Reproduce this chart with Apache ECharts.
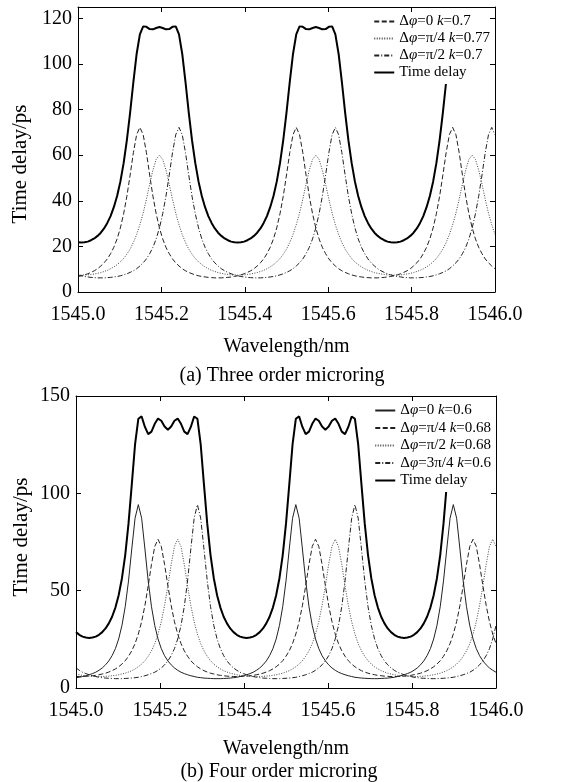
<!DOCTYPE html>
<html>
<head>
<meta charset="utf-8">
<script src="https://cdn.jsdelivr.net/npm/echarts@6/dist/echarts.min.js"></script>
<style>html,body{margin:0;padding:0;background:#fff}#chart{width:564px;height:782px}</style>
</head>
<body>
<div id="chart"></div>
<script>
// ---------- data ----------
const wavelength = [
1545.0000,1545.0078,1545.0156,1545.0234,1545.0313,1545.0391,1545.0469,1545.0547,
1545.0625,1545.0703,1545.0781,1545.0859,1545.0938,1545.1016,1545.1094,1545.1172,
1545.1250,1545.1328,1545.1406,1545.1484,1545.1563,1545.1641,1545.1719,1545.1797,
1545.1875,1545.1953,1545.2031,1545.2109,1545.2188,1545.2266,1545.2344,1545.2422,
1545.2500,1545.2578,1545.2656,1545.2734,1545.2813,1545.2891,1545.2969,1545.3047,
1545.3125,1545.3203,1545.3281,1545.3359,1545.3438,1545.3516,1545.3594,1545.3672,
1545.3750,1545.3828,1545.3906,1545.3984,1545.4063,1545.4141,1545.4219,1545.4297,
1545.4375,1545.4453,1545.4531,1545.4609,1545.4688,1545.4766,1545.4844,1545.4922,
1545.5000,1545.5078,1545.5156,1545.5234,1545.5313,1545.5391,1545.5469,1545.5547,
1545.5625,1545.5703,1545.5781,1545.5859,1545.5938,1545.6016,1545.6094,1545.6172,
1545.6250,1545.6328,1545.6406,1545.6484,1545.6563,1545.6641,1545.6719,1545.6797,
1545.6875,1545.6953,1545.7031,1545.7109,1545.7188,1545.7266,1545.7344,1545.7422,
1545.7500,1545.7578,1545.7656,1545.7734,1545.7813,1545.7891,1545.7969,1545.8047,
1545.8125,1545.8203,1545.8281,1545.8359,1545.8438,1545.8516,1545.8594,1545.8672,
1545.8750,1545.8828,1545.8906,1545.8984,1545.9063,1545.9141,1545.9219,1545.9297,
1545.9375,1545.9453,1545.9531,1545.9609,1545.9688,1545.9766,1545.9844,1545.9922,
1546.0000];

// (a) three order microring
const topNames = ['Δφ=0 k=0.7', 'Δφ=π/4 k=0.77', 'Δφ=π/2 k=0.7', 'Time delay'];
const topDphi0 = [
6.8,7.1,7.5,8.0,8.6,9.3,10.2,11.4,12.8,14.5,16.8,19.6,23.3,28.1,34.3,42.0,51.3,61.1,69.0,72.2,
69.0,61.1,51.3,42.0,34.3,28.1,23.3,19.6,16.8,14.5,12.8,11.4,10.2,9.3,8.6,8.0,7.5,7.1,6.8,6.6,6.4,6.3,6.2,6.2,
6.2,6.3,6.4,6.6,6.8,7.1,7.5,8.0,8.6,9.3,10.2,11.4,12.8,14.5,16.8,19.6,23.3,28.1,34.3,42.0,51.3,61.1,69.0,72.2,
69.0,61.1,51.3,42.0,34.3,28.1,23.3,19.6,16.8,14.5,12.8,11.4,10.2,9.3,8.6,8.0,7.5,7.1,6.8,6.6,6.4,6.3,6.2,6.2,
6.2,6.3,6.4,6.6,6.8,7.1,7.5,8.0,8.6,9.3,10.2,11.4,12.8,14.5,16.8,19.6,23.3,28.1,34.3,42.0,51.3,61.1,69.0,72.2,
69.0,61.1,51.3,42.0,34.3,28.1,23.3,19.6,16.8,14.5,12.8,11.4,10.2];
const topDphiQuarter = [
7.5,7.4,
7.5,7.5,7.7,7.9,8.2,8.5,9.0,9.5,10.2,11.0,12.0,13.2,14.7,16.6,18.8,21.7,25.2,29.5,34.6,40.7,47.3,53.5,58.2,60.0,
58.2,53.5,47.3,40.7,34.6,29.5,25.2,21.7,18.8,16.6,14.7,13.2,12.0,11.0,10.2,9.5,9.0,8.5,8.2,7.9,7.7,7.5,7.5,7.4,
7.5,7.5,7.7,7.9,8.2,8.5,9.0,9.5,10.2,11.0,12.0,13.2,14.7,16.6,18.8,21.7,25.2,29.5,34.6,40.7,47.3,53.5,58.2,60.0,
58.2,53.5,47.3,40.7,34.6,29.5,25.2,21.7,18.8,16.6,14.7,13.2,12.0,11.0,10.2,9.5,9.0,8.5,8.2,7.9,7.7,7.5,7.5,7.4,
7.5,7.5,7.7,7.9,8.2,8.5,9.0,9.5,10.2,11.0,12.0,13.2,14.7,16.6,18.8,21.7,25.2,29.5,34.6,40.7,47.3,53.5,58.2,60.0,
58.2,53.5,47.3,40.7,34.6,29.5,25.2];
const topDphiHalf = [
7.5,7.1,6.8,6.6,6.4,6.3,6.2,6.2,
6.2,6.3,6.4,6.6,6.8,7.1,7.5,8.0,8.6,9.3,10.2,11.4,12.8,14.5,16.8,19.6,23.3,28.1,34.3,42.0,51.3,61.1,69.0,72.2,
69.0,61.1,51.3,42.0,34.3,28.1,23.3,19.6,16.8,14.5,12.8,11.4,10.2,9.3,8.6,8.0,7.5,7.1,6.8,6.6,6.4,6.3,6.2,6.2,
6.2,6.3,6.4,6.6,6.8,7.1,7.5,8.0,8.6,9.3,10.2,11.4,12.8,14.5,16.8,19.6,23.3,28.1,34.3,42.0,51.3,61.1,69.0,72.2,
69.0,61.1,51.3,42.0,34.3,28.1,23.3,19.6,16.8,14.5,12.8,11.4,10.2,9.3,8.6,8.0,7.5,7.1,6.8,6.6,6.4,6.3,6.2,6.2,
6.2,6.3,6.4,6.6,6.8,7.1,7.5,8.0,8.6,9.3,10.2,11.4,12.8,14.5,16.8,19.6,23.3,28.1,34.3,42.0,51.3,61.1,69.0,72.2,
69.0];
const topTotal = [
21.8,21.7,
21.8,22.1,22.7,23.5,24.6,26.0,27.9,30.3,33.3,37.2,42.1,48.4,56.5,66.6,78.7,92.1,104.4,113.0,116.5,116.3,115.3,115.2,115.8,116.2,
115.8,115.2,115.3,116.3,116.5,113.0,104.4,92.1,78.7,66.6,56.5,48.4,42.1,37.2,33.3,30.3,27.9,26.0,24.6,23.5,22.7,22.1,21.8,21.7,
21.8,22.1,22.7,23.5,24.6,26.0,27.9,30.3,33.3,37.2,42.1,48.4,56.5,66.6,78.7,92.1,104.4,113.0,116.5,116.3,115.3,115.2,115.8,116.2,
115.8,115.2,115.3,116.3,116.5,113.0,104.4,92.1,78.7,66.6,56.5,48.4,42.1,37.2,33.3,30.3,27.9,26.0,24.6,23.5,22.7,22.1,21.8,21.7,
21.8,22.1,22.7,23.5,24.6,26.0,27.9,30.3,33.3,37.2,42.1,48.4,56.5,66.6,78.7,92.1,104.4,113.0,116.5,116.3,115.3,115.2,115.8,116.2,
115.8,115.2,115.3,116.3,116.5,113.0,104.4];

// (b) four order microring
const botNames = ['Δφ=0 k=0.6', 'Δφ=π/4 k=0.68', 'Δφ=π/2 k=0.68', 'Δφ=3π/4 k=0.6', 'Time delay'];
const botDphi0 = [
5.3,5.5,5.9,6.3,6.8,7.4,8.1,9.1,10.3,11.9,13.9,16.6,20.2,25.2,32.1,41.8,55.0,71.4,87.2,94.2,
87.2,71.4,55.0,41.8,32.1,25.2,20.2,16.6,13.9,11.9,10.3,9.1,8.1,7.4,6.8,6.3,5.9,5.5,5.3,5.1,5.0,4.9,4.8,4.8,
4.8,4.9,5.0,5.1,5.3,5.5,5.9,6.3,6.8,7.4,8.1,9.1,10.3,11.9,13.9,16.6,20.2,25.2,32.1,41.8,55.0,71.4,87.2,94.2,
87.2,71.4,55.0,41.8,32.1,25.2,20.2,16.6,13.9,11.9,10.3,9.1,8.1,7.4,6.8,6.3,5.9,5.5,5.3,5.1,5.0,4.9,4.8,4.8,
4.8,4.9,5.0,5.1,5.3,5.5,5.9,6.3,6.8,7.4,8.1,9.1,10.3,11.9,13.9,16.6,20.2,25.2,32.1,41.8,55.0,71.4,87.2,94.2,
87.2,71.4,55.0,41.8,32.1,25.2,20.2,16.6,13.9,11.9,10.3,9.1,8.1];
const botDphiQuarter = [
5.9,5.9,
5.9,6.0,6.1,6.3,6.5,6.8,7.2,7.6,8.2,8.9,9.8,10.9,12.3,14.0,16.3,19.1,22.8,27.7,34.1,42.4,52.5,63.5,72.7,76.4,
72.7,63.5,52.5,42.4,34.1,27.7,22.8,19.1,16.3,14.0,12.3,10.9,9.8,8.9,8.2,7.6,7.2,6.8,6.5,6.3,6.1,6.0,5.9,5.9,
5.9,6.0,6.1,6.3,6.5,6.8,7.2,7.6,8.2,8.9,9.8,10.9,12.3,14.0,16.3,19.1,22.8,27.7,34.1,42.4,52.5,63.5,72.7,76.4,
72.7,63.5,52.5,42.4,34.1,27.7,22.8,19.1,16.3,14.0,12.3,10.9,9.8,8.9,8.2,7.6,7.2,6.8,6.5,6.3,6.1,6.0,5.9,5.9,
5.9,6.0,6.1,6.3,6.5,6.8,7.2,7.6,8.2,8.9,9.8,10.9,12.3,14.0,16.3,19.1,22.8,27.7,34.1,42.4,52.5,63.5,72.7,76.4,
72.7,63.5,52.5,42.4,34.1,27.7,22.8];
const botDphiHalf = [
7.2,6.8,6.5,6.3,6.1,6.0,5.9,5.9,
5.9,6.0,6.1,6.3,6.5,6.8,7.2,7.6,8.2,8.9,9.8,10.9,12.3,14.0,16.3,19.1,22.8,27.7,34.1,42.4,52.5,63.5,72.7,76.4,
72.7,63.5,52.5,42.4,34.1,27.7,22.8,19.1,16.3,14.0,12.3,10.9,9.8,8.9,8.2,7.6,7.2,6.8,6.5,6.3,6.1,6.0,5.9,5.9,
5.9,6.0,6.1,6.3,6.5,6.8,7.2,7.6,8.2,8.9,9.8,10.9,12.3,14.0,16.3,19.1,22.8,27.7,34.1,42.4,52.5,63.5,72.7,76.4,
72.7,63.5,52.5,42.4,34.1,27.7,22.8,19.1,16.3,14.0,12.3,10.9,9.8,8.9,8.2,7.6,7.2,6.8,6.5,6.3,6.1,6.0,5.9,5.9,
5.9,6.0,6.1,6.3,6.5,6.8,7.2,7.6,8.2,8.9,9.8,10.9,12.3,14.0,16.3,19.1,22.8,27.7,34.1,42.4,52.5,63.5,72.7,76.4,
72.7];
const botDphi3Quarter = [
10.3,9.1,8.1,7.4,6.8,6.3,5.9,5.5,5.3,5.1,5.0,4.9,4.8,4.8,
4.8,4.9,5.0,5.1,5.3,5.5,5.9,6.3,6.8,7.4,8.1,9.1,10.3,11.9,13.9,16.6,20.2,25.2,32.1,41.8,55.0,71.4,87.2,94.2,
87.2,71.4,55.0,41.8,32.1,25.2,20.2,16.6,13.9,11.9,10.3,9.1,8.1,7.4,6.8,6.3,5.9,5.5,5.3,5.1,5.0,4.9,4.8,4.8,
4.8,4.9,5.0,5.1,5.3,5.5,5.9,6.3,6.8,7.4,8.1,9.1,10.3,11.9,13.9,16.6,20.2,25.2,32.1,41.8,55.0,71.4,87.2,94.2,
87.2,71.4,55.0,41.8,32.1,25.2,20.2,16.6,13.9,11.9,10.3,9.1,8.1,7.4,6.8,6.3,5.9,5.5,5.3,5.1,5.0,4.9,4.8,4.8,
4.8,4.9,5.0,5.1,5.3,5.5,5.9,6.3,6.8,7.4,8.1,9.1,10.3,11.9,13.9,16.6,20.2,25.2,32.1];
const botTotal = [
28.7,27.3,26.4,25.9,25.7,
25.9,26.4,27.3,28.7,30.6,33.2,36.6,41.3,47.7,56.4,68.3,84.4,104.5,125.1,138.3,139.5,134.1,130.4,131.7,135.7,138.4,137.3,134.3,132.7,
134.3,137.3,138.4,135.7,131.7,130.4,134.1,139.5,138.3,125.1,104.5,84.4,68.3,56.4,47.7,41.3,36.6,33.2,30.6,28.7,27.3,26.4,25.9,25.7,
25.9,26.4,27.3,28.7,30.6,33.2,36.6,41.3,47.7,56.4,68.3,84.4,104.5,125.1,138.3,139.5,134.1,130.4,131.7,135.7,138.4,137.3,134.3,132.7,
134.3,137.3,138.4,135.7,131.7,130.4,134.1,139.5,138.3,125.1,104.5,84.4,68.3,56.4,47.7,41.3,36.6,33.2,30.6,28.7,27.3,26.4,25.9,25.7,
25.9,26.4,27.3,28.7,30.6,33.2,36.6,41.3,47.7,56.4,68.3,84.4,104.5,125.1,138.3,139.5,134.1,130.4,131.7,135.7,138.4,137.3,134.3,132.7,
134.3,137.3,138.4,135.7];

const xTicks = { min: 1545.0, max: 1546.0, step: 0.2 };
const topYTicks = { min: 0, max: 125, step: 20 };
const botYTicks = { min: 0, max: 150, step: 50 };
const captions = ['(a) Three order microring', '(b) Four order microring'];
const xName = 'Wavelength/nm';
const yName = 'Time delay/ps';

// ---------- chart ----------
const FONT = '"Liberation Serif", "Times New Roman", serif';
function zip(ys) {
  const n = Math.min(ys.length, wavelength.length);
  const out = [];
  for (let i = 0; i < n; i++) out.push([wavelength[i], ys[i]]);
  return out;
}
const tickStyle = { show: true, inside: true, length: 5, lineStyle: { color: '#000', width: 1 } };
const lineAxis = { show: true, onZero: false, lineStyle: { color: '#000', width: 1 } };

function xAxes(gi, nameGap) {
  return [
    { gridIndex: gi, type: 'value', position: 'bottom', z: 10, min: xTicks.min, max: xTicks.max, interval: xTicks.step,
      axisLine: lineAxis, axisTick: tickStyle, splitLine: { show: false },
      axisLabel: { margin: 13, color: '#000', fontFamily: FONT, fontSize: 20, formatter: v => v.toFixed(1) },
      name: xName, nameLocation: 'middle', nameGap: nameGap,
      nameTextStyle: { color: '#000', fontFamily: FONT, fontSize: 20 } },
    { gridIndex: gi, type: 'value', position: 'top', z: 10, min: xTicks.min, max: xTicks.max, interval: xTicks.step,
      axisLine: lineAxis, axisTick: tickStyle, splitLine: { show: false }, axisLabel: { show: false } }
  ];
}
function yAxes(gi, t) {
  return [
    { gridIndex: gi, type: 'value', position: 'left', z: 10, min: t.min, max: t.max, interval: t.step,
      axisLine: lineAxis, axisTick: tickStyle, splitLine: { show: false },
      axisLabel: { margin: 6, color: '#000', fontFamily: FONT, fontSize: 20,
        formatter: v => (Math.abs(v % t.step) < 1e-9 ? String(v) : '') } },
    { gridIndex: gi, type: 'value', position: 'right', z: 10, min: t.min, max: t.max, interval: t.step,
      axisLine: lineAxis, axisTick: tickStyle, splitLine: { show: false }, axisLabel: { show: false } }
  ];
}

function lineSeries(name, data, xi, yi, type, color, width) {
  return { name, type: 'line', xAxisIndex: xi, yAxisIndex: yi, data: zip(data),
    symbol: 'none', showSymbol: false, smooth: false, silent: true, animation: false,
    lineStyle: { color, width, type }, itemStyle: { color }, z: width > 1 ? 3 : 2 };
}

const DASH = [5, 2.5];
const DOT = [1, 1.5];
const DASHDOT = [5, 2, 1, 2];

const series = [
  lineSeries(topNames[0], topDphi0, 0, 0, DASH, '#222', 1),
  lineSeries(topNames[1], topDphiQuarter, 0, 0, DOT, '#444', 1),
  lineSeries(topNames[2], topDphiHalf, 0, 0, DASHDOT, '#222', 1),
  lineSeries(topNames[3], topTotal, 0, 0, 'solid', '#000', 2),
  lineSeries(botNames[0], botDphi0, 2, 2, 'solid', '#222', 1),
  lineSeries(botNames[1], botDphiQuarter, 2, 2, DASH, '#222', 1),
  lineSeries(botNames[2], botDphiHalf, 2, 2, DOT, '#444', 1),
  lineSeries(botNames[3], botDphi3Quarter, 2, 2, DASHDOT, '#222', 1),
  lineSeries(botNames[4], botTotal, 2, 2, 'solid', '#000', 2)
];

const legendText = name => name.replace(/φ/g, '{i|φ}').replace(/ k=/, ' {i|k}=');
function legend(names, right, top, gap) {
  return {
    data: names, right, top, orient: 'vertical', itemWidth: 20, itemHeight: 14, itemGap: gap,
    padding: [6, 6, 4, 4], backgroundColor: '#fff', selectedMode: false,
    itemStyle: { color: 'rgba(0,0,0,0)', borderWidth: 0 },
    formatter: legendText,
    textStyle: { color: '#000', fontFamily: FONT, fontSize: 15,
      rich: { i: { fontStyle: 'italic', fontFamily: FONT, fontSize: 15, color: '#000' } } }
  };
}

const option = {
  backgroundColor: '#fff',
  animation: false,
  grid: [
    { left: 78, top: 7, width: 417, height: 285 },
    { left: 76, top: 396, width: 420, height: 292 }
  ],
  xAxis: [...xAxes(0, 45), ...xAxes(1, 51)],
  yAxis: [...yAxes(0, topYTicks), ...yAxes(1, botYTicks)],
  legend: [legend(topNames, 68, 8, 2), legend(botNames, 67, 397, 2.5)],
  graphic: [
    { type: 'text', x: 20, y: 164, rotation: Math.PI / 2,
      style: { text: yName, font: '21px ' + FONT, fill: '#000', align: 'center', verticalAlign: 'middle' } },
    { type: 'text', x: 21, y: 537, rotation: Math.PI / 2,
      style: { text: yName, font: '21px ' + FONT, fill: '#000', align: 'center', verticalAlign: 'middle' } },
    { type: 'text', x: 282, y: 376,
      style: { text: captions[0], font: '20px ' + FONT, fill: '#000', align: 'center', verticalAlign: 'middle' } },
    { type: 'text', x: 279, y: 772,
      style: { text: captions[1], font: '20px ' + FONT, fill: '#000', align: 'center', verticalAlign: 'middle' } }
  ],
  series
};

const chart = echarts.init(document.getElementById('chart'), null, { renderer: 'canvas' });
chart.setOption(option);
</script>
</body>
</html>
